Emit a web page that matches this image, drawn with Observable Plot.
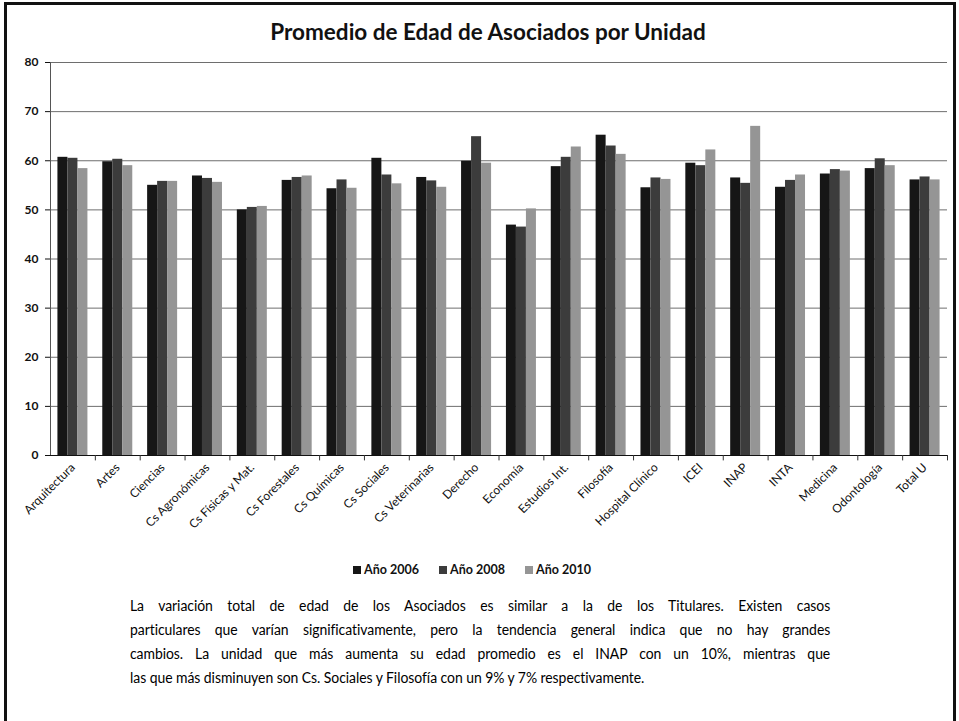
<!DOCTYPE html>
<html><head><meta charset="utf-8">
<script src="https://cdn.jsdelivr.net/npm/d3@7"></script>
<script src="https://cdn.jsdelivr.net/npm/@observablehq/plot@0.6"></script>
<style>
body{margin:0;background:#fff;font-family:Lato, "Open Sans", sans-serif;color:#111;}
#frame{position:absolute;left:4px;top:2px;width:946px;height:760px;border:3px solid #111;}
#title{position:absolute;top:18px;left:0;width:976px;text-align:center;font-weight:bold;font-size:22.5px;}
#chart{position:absolute;left:0;top:0;}
#legend{position:absolute;top:562px;left:0;width:944px;display:flex;justify-content:center;gap:20px;font-size:12.5px;font-weight:bold;}
#legend span.sw{display:inline-block;width:8px;height:8px;margin-right:3px;}
#note{position:absolute;top:593px;left:130px;width:778px;font-size:15.5px;line-height:24px;letter-spacing:-0.05px;transform:scaleX(0.9);transform-origin:0 0;color:#000;}
#note div.j{text-align:justify;text-align-last:justify;}
</style></head>
<body>
<div id="frame"></div>
<div id="chart"></div>
<div id="title">Promedio de Edad de Asociados por Unidad</div>
<div id="legend"></div>
<div id="note">
<div class="j">La variación total de edad de los Asociados es similar a la de los Titulares. Existen casos</div>
<div class="j">particulares que varían significativamente, pero la tendencia general indica que no hay grandes</div>
<div class="j">cambios. La unidad que más aumenta su edad promedio es el INAP con un 10%, mientras que</div>
<div>las que más disminuyen son Cs. Sociales y Filosofía con un 9% y 7% respectivamente.</div>
</div>
<script>
const categories = ["Arquitectura","Artes","Ciencias","Cs Agronómicas","Cs Físicas y Mat.","Cs Forestales","Cs Químicas","Cs Sociales","Cs Veterinarias","Derecho","Economía","Estudios Int.","Filosofía","Hospital Clínico","ICEI","INAP","INTA","Medicina","Odontología","Total U"];
const years = ["Año 2006","Año 2008","Año 2010"];
const v2006 = [60.7,59.8,55.0,56.9,50.0,56.0,54.3,60.5,56.6,59.9,46.9,58.8,65.2,54.5,59.5,56.5,54.6,57.3,58.4,56.1];
const v2008 = [60.5,60.3,55.8,56.4,50.5,56.6,56.1,57.1,55.9,64.9,46.5,60.7,63.0,56.5,59.0,55.4,56.0,58.2,60.4,56.7];
const v2010 = [58.4,59.0,55.8,55.6,50.7,56.9,54.4,55.3,54.6,59.5,50.2,62.8,61.3,56.2,62.2,67.0,57.1,57.9,59.0,56.1];
const yTicks = [0,10,20,30,40,50,60,70,80];
const colors = ["#161616","#3c3c3c","#959595"];

const series = [v2006, v2008, v2010];
const W = 959, ML = 50, MR = 12;
const bw = (W - ML - MR) / categories.length;
const barW = 10, off = (bw - 3 * barW) / 2;

const barMarks = series.map((vals, i) => Plot.barY(
  categories.map((c, k) => ({cat: c, value: vals[k]})),
  {x: "cat", y1: 0, y2: "value", fill: colors[i],
   insetLeft: off + barW * i, insetRight: bw - off - barW * (i + 1)}
));

const chart = Plot.plot({
  width: W, height: 560,
  marginLeft: ML, marginRight: MR, marginTop: 62, marginBottom: 105,
  style: {fontFamily: "Lato, sans-serif", background: "transparent", color: "#111"},
  x: {domain: categories, padding: 0, round: false, axis: null},
  y: {domain: [0, 80], axis: null},
  marks: [
    Plot.ruleY(yTicks.filter(d => d > 0), {y: d => d, stroke: "#6e6e6e", strokeWidth: 1}),
    ...barMarks,
    Plot.ruleY([0], {stroke: "#111", strokeWidth: 1}),
    Plot.ruleX([categories[0]], {x: d => d, dx: -bw / 2, y1: 0, y2: 80, stroke: "#555"}),
    Plot.ruleX(categories, {x: d => d, dx: bw / 2, y1: 0, y2: -1.1, stroke: "#333"}),
    Plot.axisY({ticks: yTicks, label: null, tickSize: 5, tickPadding: 7, fontSize: 12, fontWeight: "bold", tickFormat: d => d}),
    Plot.axisX({label: null, tickRotate: -45, tickSize: 0, tickPadding: 10, fontSize: 12})
  ]
});
document.getElementById("chart").appendChild(chart);

const leg = document.getElementById("legend");
years.forEach((y, i) => {
  const s = document.createElement("span");
  s.innerHTML = `<span class="sw" style="background:${colors[i]}"></span>${y}`;
  leg.appendChild(s);
});
</script>
</body></html>
